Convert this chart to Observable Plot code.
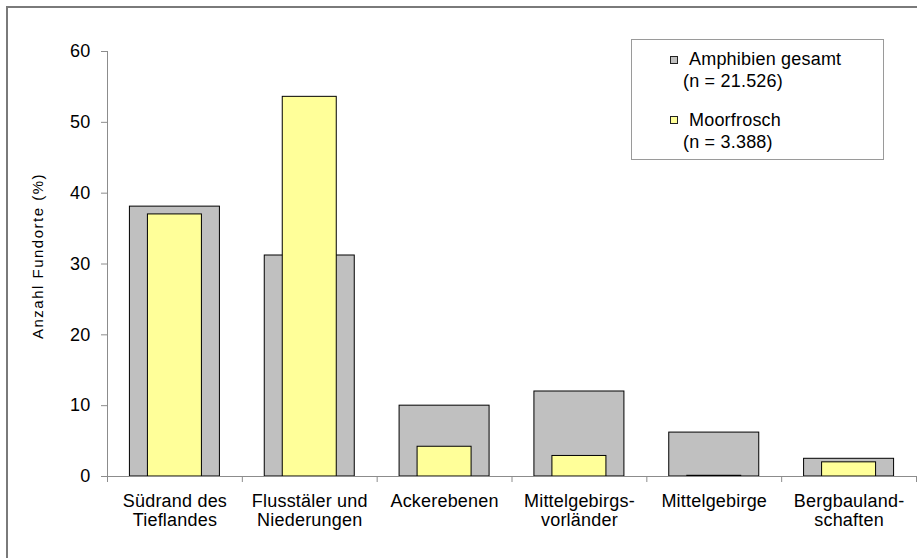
<!DOCTYPE html>
<html>
<head>
<meta charset="utf-8">
<script src="https://cdn.jsdelivr.net/npm/d3@7"></script>
<script src="https://cdn.jsdelivr.net/npm/@observablehq/plot@0.6"></script>
<style>
  html, body { margin: 0; padding: 0; background: #fff; overflow: hidden; }
  #wrap { position: relative; width: 917px; height: 558px; overflow: hidden; font-family: "Liberation Sans", Arial, sans-serif; }
  #border { position: absolute; left: 6px; top: 6px; width: 1000px; height: 700px; border: 2px solid #7a7a7a; box-sizing: border-box; pointer-events: none; }
  #chart { position: absolute; left: 0; top: 0; }
  .lg { position: absolute; font-size: 18px; letter-spacing: 0.2px; line-height: 18px; color: #000; white-space: nowrap; }
  .sw { position: absolute; width: 8px; height: 8px; border: 1px solid #222; box-sizing: border-box; }
  #legendBox { position: absolute; left: 631px; top: 39px; width: 253px; height: 121px; border: 1px solid #9a9a9a; box-sizing: border-box; background: #fff; }
</style>
</head>
<body>
<div id="wrap">
  <div id="chart"></div>
  <div id="border"></div>
  <div id="legendBox"></div>
  <div id="legend"></div>
</div>
<script>
const categories = [
  "Südrand des\nTieflandes",
  "Flusstäler und\nNiederungen",
  "Ackerebenen",
  "Mittelgebirgs-\nvorländer",
  "Mittelgebirge",
  "Bergbauland-\nschaften"
];
const amphibienGesamt = [38.1, 31.2, 10.0, 12.0, 6.2, 2.5];
const moorfrosch = [37.0, 53.6, 4.2, 2.9, 0.1, 2.0];
const yTicks = [0, 10, 20, 30, 40, 50, 60];
const yLabel = "Anzahl Fundorte (%)";
const seriesNames = ["Amphibien gesamt", "Moorfrosch"];
const seriesNotes = ["(n = 21.526)", "(n = 3.388)"];
const seriesColors = ["#c0c0c0", "#ffff99"];

const data = categories.map((c, i) => ({
  cat: c, i, gesamt: amphibienGesamt[i], moor: moorfrosch[i]
}));
const boundaries = d3.range(categories.length + 1);

const W = 917, H = 558;
const mL = 107, mR = 1, mT = 51, mB = 82;
const step = (W - mL - mR) / categories.length;
const grayInset = (step - 90) / 2;
const yellowInset = (step - 54) / 2;
const axisGray = "#8c8c8c";

const plot = Plot.plot({
  width: W,
  height: H,
  marginLeft: mL,
  marginRight: mR,
  marginTop: mT,
  marginBottom: mB,
  style: { fontFamily: "'Liberation Sans', Arial, sans-serif", fontSize: "18px", background: "transparent", overflow: "visible" },
  x: { type: "linear", domain: [0, categories.length], axis: null },
  y: { domain: [0, 60], axis: null },
  marks: [
    Plot.rectY(data, { x1: "i", x2: d => d.i + 1, y: "gesamt", fill: seriesColors[0], stroke: "#000", strokeWidth: 1, insetLeft: grayInset, insetRight: grayInset }),
    Plot.rectY(data, { x1: "i", x2: d => d.i + 1, y: "moor", fill: seriesColors[1], stroke: "#000", strokeWidth: 1, insetLeft: yellowInset, insetRight: yellowInset }),
    Plot.ruleX([0], { stroke: axisGray }),
    Plot.ruleY([0], { stroke: axisGray }),
    Plot.axisY({ ticks: yTicks, tickSize: 6, tickPadding: 11, stroke: axisGray, fill: "#000", label: null, tickFormat: d => String(d), fontSize: 18 }),
    Plot.axisX({ ticks: boundaries, tickSize: 6, tickFormat: () => "", stroke: axisGray, label: null }),
    Plot.text(data, { x: d => d.i + 0.5, text: "cat", frameAnchor: "bottom", lineAnchor: "top", dy: 16, lineHeight: 1.1, fill: "#000", fontSize: 18 }),
    Plot.text([yLabel], { frameAnchor: "left", textAnchor: "middle", rotate: -90, dx: -69, dy: -8, fill: "#000", fontSize: 15 })
  ]
});
d3.select(plot).style("letter-spacing", "0.2px");
d3.select(plot).selectAll("text").filter(function () { return this.textContent === yLabel; }).style("letter-spacing", "1.5px");
document.getElementById("chart").appendChild(plot);

// legend
const legend = document.getElementById("legend");
const rows = [
  { sw: 56, name: 65, note: 87 },
  { sw: 116, name: 126, note: 148 }
];
seriesNames.forEach((name, k) => {
  const sw = document.createElement("div");
  sw.className = "sw";
  sw.style.left = "670px";
  sw.style.top = rows[k].sw + "px";
  sw.style.background = seriesColors[k];
  legend.appendChild(sw);
  const t = document.createElement("div");
  t.className = "lg";
  t.textContent = name;
  t.style.left = "689px";
  t.style.top = (rows[k].name - 15.2) + "px";
  legend.appendChild(t);
  const n = document.createElement("div");
  n.className = "lg";
  n.textContent = seriesNotes[k];
  n.style.left = "683px";
  n.style.top = (rows[k].note - 15.2) + "px";
  legend.appendChild(n);
});
</script>
</body>
</html>
